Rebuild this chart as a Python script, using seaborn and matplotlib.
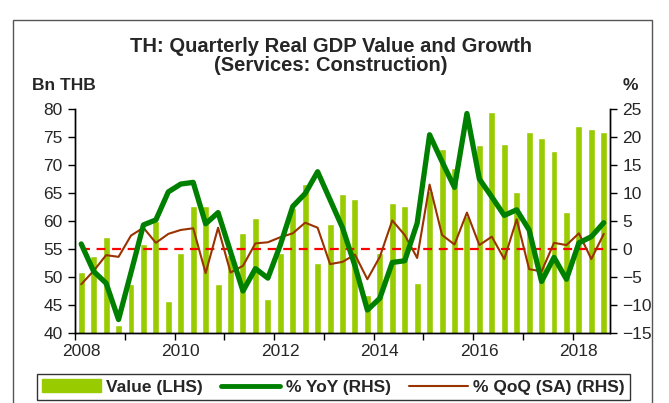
"""
plot.py - TH construction GDP: value bars + YoY / QoQ growth lines
"""

import numpy as np
import pandas as pd
import matplotlib.pyplot as plt
import matplotlib.patches as mpatches
from matplotlib.lines import Line2D
import seaborn as sns

# ─────────────────────────────────────────────
# Data (2008Q1 .. 2018Q3)
# ─────────────────────────────────────────────
quarters = [str(p) for p in pd.period_range("2008Q1", "2018Q3", freq="Q")]

value_bn = [50.9, 53.7, 57.1, 41.4,
            48.7, 55.9, 60.0, 45.7,
            54.3, 62.6, 62.6, 48.7,
            54.0, 57.9, 60.6, 46.1,
            54.3, 62.4, 66.6, 52.5,
            59.5, 64.8, 64.0, 46.7,
            54.3, 63.3, 62.7, 49.0,
            65.4, 72.9, 69.5, 60.9,
            73.6, 79.5, 73.7, 65.1,
            75.9, 74.9, 72.5, 61.6,
            77.0, 76.4, 75.9]

yoy_pct = [0.9, -4.0, -6.1, -12.6,
           -4.2, 4.3, 5.2, 10.2,
           11.6, 11.9, 4.5, 6.5,
           -0.5, -7.5, -3.5, -5.2,
           0.7, 7.6, 9.9, 13.8,
           8.8, 3.8, -3.0, -10.9,
           -8.8, -2.4, -2.1, 4.6,
           20.4, 15.6, 11.0, 24.2,
           12.5, 9.3, 6.0, 7.0,
           3.4, -5.8, -1.5, -5.4,
           1.1, 2.2, 4.7]

qoq_pct = [-6.3, -3.9, -1.1, -1.4,
           2.4, 3.8, 1.1, 2.7,
           3.4, 3.7, -4.3, 3.8,
           -4.2, -3.0, 1.0, 1.2,
           2.1, 2.8, 4.7, 3.8,
           -2.7, -2.3, -1.0, -5.4,
           -1.4, 5.1, 2.5, -1.6,
           11.5, 2.5, 0.8, 6.5,
           0.7, 2.2, -1.8, 5.3,
           -3.6, -4.0, 1.1, 0.7,
           2.8, -1.8, 2.7]

year_labels = ["2008", "2010", "2012", "2014", "2016", "2018"]

df = pd.DataFrame({"quarter": quarters, "value": value_bn,
                   "yoy": yoy_pct, "qoq": qoq_pct})
df["idx"] = np.arange(len(df))

# ─────────────────────────────────────────────
# Style
# ─────────────────────────────────────────────
sns.set_theme(style="white")
plt.rcParams["font.family"] = ["Liberation Sans", "DejaVu Sans"]

BAR_C  = "#99CC00"
YOY_C  = "#008000"
QOQ_C  = "#993300"
FS     = 12.5

fig = plt.figure(figsize=(6.69, 4.03), dpi=100)
ax1 = fig.add_axes([75/669, 1-333/403, 535/669, 224/403])
ax2 = ax1.twinx()

# bars (left axis)
sns.barplot(data=df, x="idx", y="value", color=BAR_C, saturation=1,
            width=0.56, ax=ax1)
ax1.set_ylim(40, 80)
ax1.set_yticks(np.arange(40, 81, 5))
ax1.set_xlim(-0.5, len(df) - 0.5)
ax1.set_xlabel("")
ax1.set_ylabel("")

# lines (right axis)
ax2.hlines(0, df["idx"].iloc[0], df["idx"].iloc[-1], color="red",
           lw=1.6, linestyles=(0, (4, 3)), zorder=1)
sns.lineplot(data=df, x="idx", y="qoq", color=QOQ_C, lw=1.5, ax=ax2, zorder=2)
sns.lineplot(data=df, x="idx", y="yoy", color=YOY_C, lw=3.8, ax=ax2, zorder=3)
ax2.set_ylim(-15, 25)
ax2.set_yticks(np.arange(-15, 26, 5))
ax2.set_xlim(-0.5, len(df) - 0.5)
ax2.set_xlabel("")
ax2.set_ylabel("")

# x axis: ticks on year boundaries, labels on Q1 of even years
ax1.set_xticks(np.arange(-0.5, len(df) - 1, 4))
ax1.set_xticklabels([])
ax1.set_xticks([quarters.index(y + "Q1") for y in year_labels], minor=True)
ax1.set_xticklabels(year_labels, minor=True)
ax1.tick_params(axis="x", which="major", direction="out", length=5,
                width=1, color="black", bottom=True)
ax1.tick_params(axis="x", which="minor", length=0, pad=8, labelsize=FS)

ax1.tick_params(axis="y", direction="out", length=5, width=1, color="black",
                left=True, labelsize=FS, pad=4)
ax2.tick_params(axis="y", direction="out", length=5, width=1, color="black",
                right=True, labelsize=FS, pad=4)

for ax in (ax1, ax2):
    ax.spines["top"].set_visible(False)
    for s in ("left", "right", "bottom"):
        ax.spines[s].set_color("black")
        ax.spines[s].set_linewidth(1)

# ─────────────────────────────────────────────
# Texts, legend, frame
# ─────────────────────────────────────────────
fig.text(0.495, 1-56/403, "TH: Quarterly Real GDP Value and Growth\n(Services: Construction)",
         ha="center", va="center", fontsize=14.5, fontweight="bold", linespacing=1.0)
fig.text(32/669, 1-86/403, "Bn THB", ha="left", va="center",
         fontsize=FS, fontweight="bold")
fig.text(630/669, 1-86/403, "%", ha="center", va="center",
         fontsize=FS, fontweight="bold")

handles = [mpatches.Rectangle((0, 0), 1, 1, color=BAR_C),
           Line2D([0], [0], color=YOY_C, lw=3.5),
           Line2D([0], [0], color=QOQ_C, lw=1.5)]
labels = ["Value (LHS)", "% YoY (RHS)", "% QoQ (SA) (RHS)"]
leg = fig.legend(handles, labels, loc="upper left", ncol=3, mode="expand",
                 bbox_to_anchor=(37/669, 1-403/403, 593/669, 29/403),
                 borderaxespad=0,
                 frameon=True, fancybox=False, edgecolor="black",
                 handlelength=3.4, handleheight=0.8, handletextpad=0.3,
                 columnspacing=1.0, borderpad=0.3,
                 prop={"weight": "bold", "size": FS})
leg.get_frame().set_linewidth(1)

fig.patches.append(mpatches.Rectangle((13/669, -0.05), 639/669, 1.05 - 20/403,
                                      transform=fig.transFigure, fill=False,
                                      edgecolor="#555555", lw=1))

fig.savefig("out.png", dpi=100)
